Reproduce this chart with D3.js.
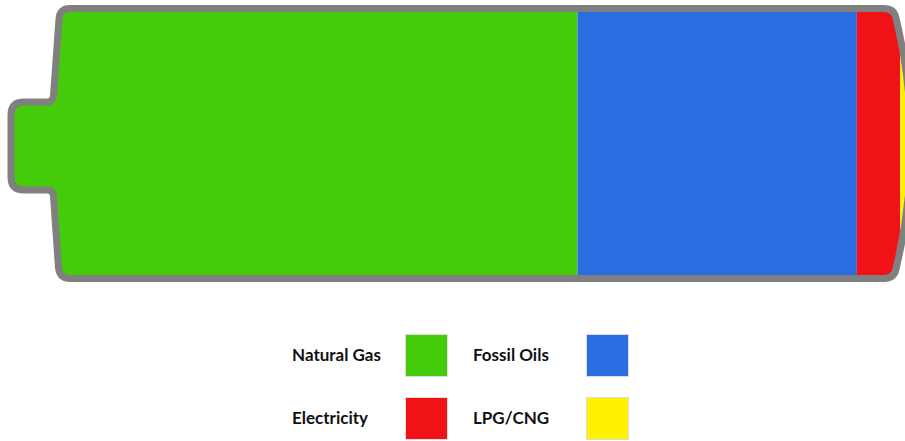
<!DOCTYPE html>
<meta charset="utf-8">
<style>
    body { margin: 0; background: #fff; }
    .legend text {
        font: bold 17px Lato, "Open Sans", sans-serif;
        fill: #111;
    }
    .shell {
        fill: none;
        stroke: #808080;
        stroke-width: 7px;
        stroke-linejoin: round;
    }
</style>
<body>
<script src="https://d3js.org/d3.v7.min.js"></script>
<script>
    // energy sources and their share (%)
    var categories = ["Natural Gas", "Fossil Oils", "Electricity", "LPG/CNG"];
    var shares = [63.0, 30.9, 4.8, 1.3];
    var colors = ["#44cc0a", "#2a6de0", "#f01216", "#fff200"];

    var width = 905,
        height = 441;

    var svg = d3.select("body").append("svg")
        .attr("width", width)
        .attr("height", height);

    // battery outline (stroke centre line)
    var shape = d3.path();
    shape.moveTo(70, 8.5);
    shape.lineTo(884, 8.5);
    shape.quadraticCurveTo(894, 8.5, 896, 18);
    shape.quadraticCurveTo(926, 144, 896, 269);
    shape.quadraticCurveTo(894, 278.5, 884, 278.5);
    shape.lineTo(70, 278.5);
    shape.quadraticCurveTo(60, 278.5, 58.5, 268);
    shape.lineTo(53.5, 196);
    shape.quadraticCurveTo(53, 190, 47, 190);
    shape.lineTo(24, 190);
    shape.quadraticCurveTo(11, 190, 11, 177);
    shape.lineTo(11, 115);
    shape.quadraticCurveTo(11, 102, 24, 102);
    shape.lineTo(47, 102);
    shape.quadraticCurveTo(53, 102, 53.5, 96);
    shape.lineTo(59, 19);
    shape.quadraticCurveTo(60, 8.5, 70, 8.5);
    shape.closePath();

    svg.append("clipPath")
        .attr("id", "battery")
        .append("path")
        .attr("d", shape.toString());

    // stacked shares
    var x = d3.scaleLinear().domain([0, d3.sum(shares)]).range([8, 912]);
    var starts = d3.cumsum([0].concat(shares.slice(0, -1)));

    svg.append("g")
        .attr("clip-path", "url(#battery)")
        .selectAll("rect")
        .data(shares)
        .enter()
        .append("rect")
        .attr("x", function(d, i) { return x(starts[i]); })
        .attr("y", 0)
        .attr("width", function(d, i) { return x(starts[i] + d) - x(starts[i]); })
        .attr("height", 290)
        .attr("fill", function(d, i) { return colors[i]; });

    svg.append("path")
        .attr("class", "shell")
        .attr("d", shape.toString());

    // legend, two columns
    var legend = svg.append("g").attr("class", "legend");

    legend.selectAll("g")
        .data(categories)
        .enter()
        .append("g")
        .attr("transform", function(d, i) {
            return "translate(" + (292 + (i % 2) * 181) + "," + (334 + Math.floor(i / 2) * 63) + ")";
        })
        .each(function(d, i) {
            var g = d3.select(this);
            g.append("text")
                .attr("x", 0)
                .attr("y", 27)
                .text(d);
            g.append("rect")
                .attr("x", 113.5)
                .attr("y", 0.5)
                .attr("width", 42)
                .attr("height", 42)
                .attr("fill", colors[i])
                .attr("stroke", "#ddd")
                .attr("stroke-width", 1);
        });
</script>
</body>
